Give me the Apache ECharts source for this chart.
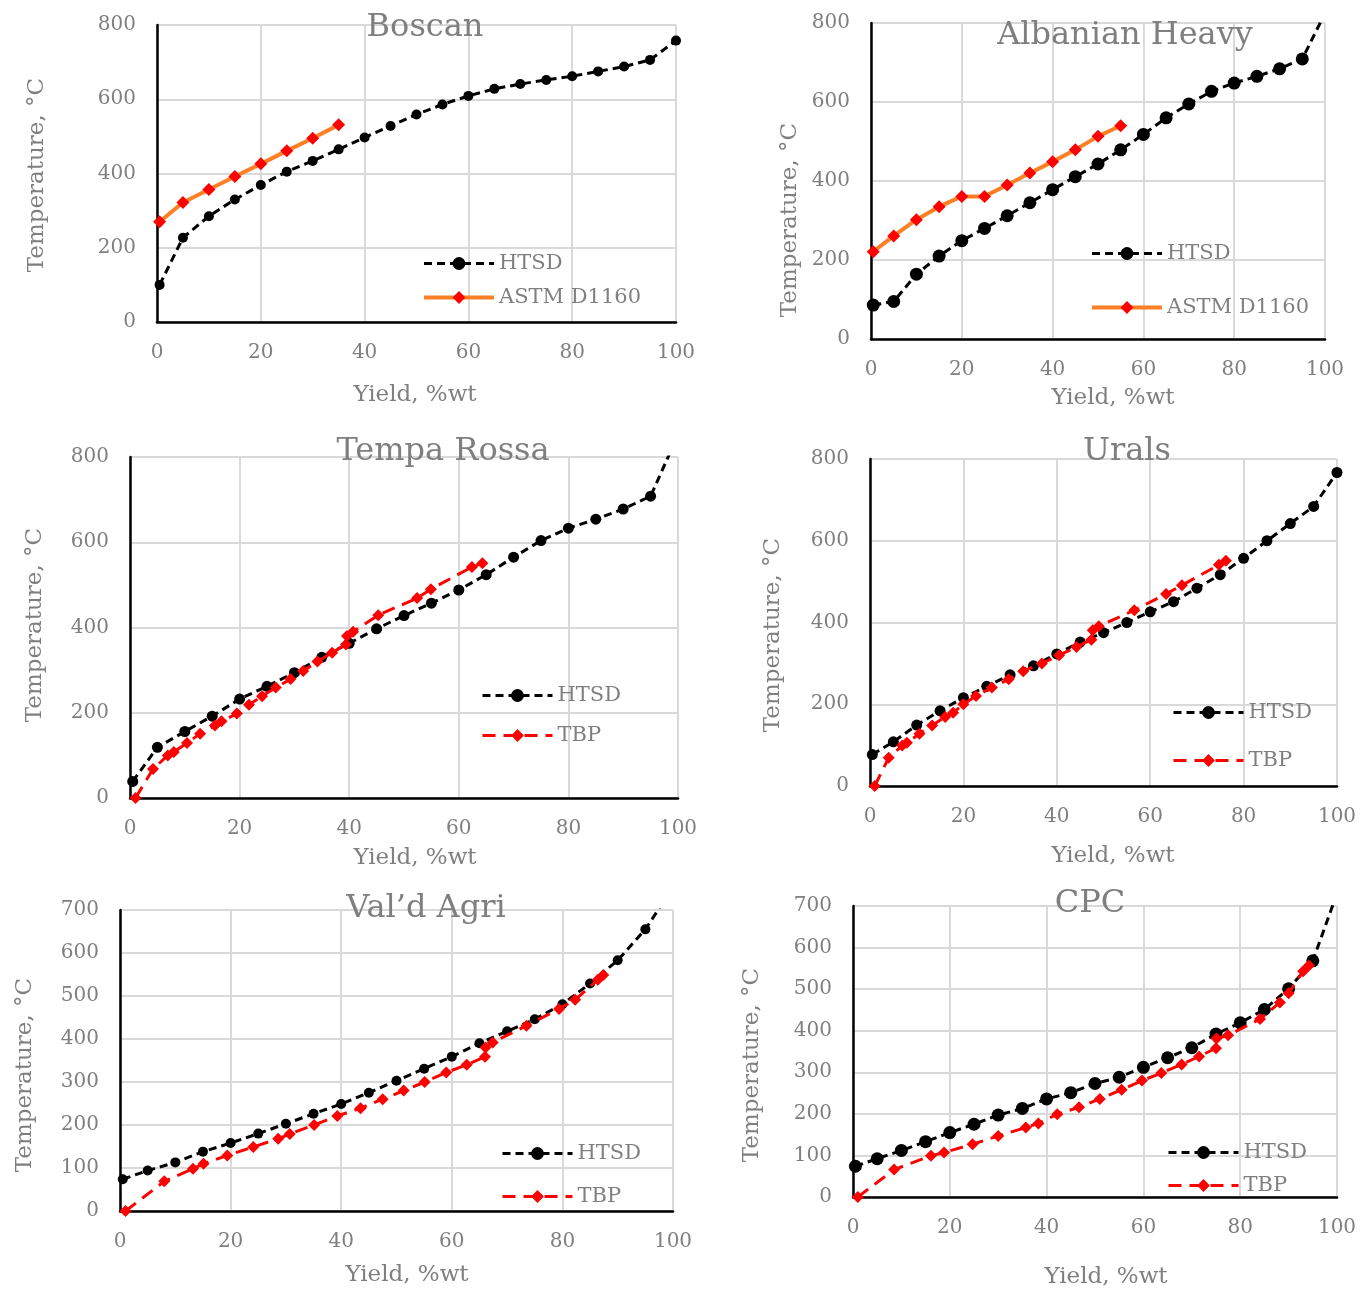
<!DOCTYPE html>
<html>
<head>
<meta charset="utf-8">
<script src="https://cdn.jsdelivr.net/npm/echarts@6/dist/echarts.min.js"></script>
<style>
html, body { margin: 0; padding: 0; background: #fff; }
#chart { width: 1370px; height: 1291px; }
</style>
</head>
<body>
<div id="chart"></div>
<script>
// yield points (%wt) of the HTSD curves, same for all six crudes
const htsdYield = [0.5, 5, 10, 15, 20, 25, 30, 35, 40, 45, 50, 55, 60, 65, 70, 75, 80, 85, 90, 95, 100];

// HTSD temperatures, °C
const boscanHtsd = [100, 227, 285, 330, 369, 405, 434, 465, 497, 528, 559, 586, 609, 628, 641, 652, 662, 675, 688, 706, 758];
const albanianHtsd = [86, 95, 164, 210, 249, 280, 312, 345, 378, 411, 443, 479, 518, 560, 595, 627, 648, 665, 684, 709, 825];
const tempaHtsd = [39, 119, 156, 192, 232, 262, 294, 330, 363, 397, 428, 457, 488, 524, 565, 604, 633, 654, 678, 708, 852];
const uralsHtsd = [77, 108, 149, 184, 216, 244, 272, 294, 323, 352, 375, 400, 426, 451, 484, 517, 557, 600, 642, 684, 767];
const valdHtsd = [74, 94, 113, 138, 158, 180, 203, 226, 249, 275, 303, 331, 359, 390, 418, 446, 481, 529, 583, 655, 753];
const cpcHtsd = [74, 92, 112, 133, 155, 175, 197, 213, 236, 251, 273, 288, 312, 335, 359, 392, 419, 451, 501, 568, 730];

// ASTM D1160 distillations
const boscanAstmYield = [0.5, 5, 10, 15, 20, 25, 30, 35];
const boscanAstm = [270, 322, 357, 392, 426, 461, 495, 531];
const albanianAstmYield = [0.5, 5, 10, 15, 20, 25, 30, 35, 40, 45, 50, 55];
const albanianAstm = [221, 261, 302, 335, 361, 361, 390, 420, 449, 479, 513, 540];

// TBP distillations
const tempaTbpYield = [1, 4.2, 6.9, 8, 10.4, 12.8, 15.5, 16.7, 19.5, 21.7, 24.1, 26.6, 29.3, 31.6, 34.2, 36.9, 39.4, 39.6, 40.7, 45.3, 52.4, 54.9, 62.4, 64.3];
const tempaTbp = [0, 68, 100, 108, 129, 151, 170, 180, 198, 219, 239, 259, 279, 298, 320, 341, 360, 380, 390, 429, 469, 490, 542, 551];
const uralsTbpYield = [1, 4, 6.9, 7.9, 10.6, 13.3, 16.1, 17.8, 20, 22.7, 26.1, 29.7, 32.8, 36.8, 40.5, 44.2, 47.4, 47.7, 49, 56.6, 63.4, 66.8, 74.7, 76.2];
const uralsTbp = [0, 69, 99, 106, 128, 148, 169, 179, 200, 220, 241, 261, 281, 300, 320, 340, 358, 381, 391, 430, 470, 491, 541, 551];
const valdTbpYield = [1, 8, 13.2, 15.1, 19.4, 24.1, 28.6, 30.7, 35.1, 39.3, 43.5, 47.5, 51.3, 55.1, 59, 62.7, 66, 66.1, 67.4, 73.5, 79.4, 82.3, 86.4, 87.4];
const valdTbp = [0, 69, 98, 110, 129, 149, 168, 179, 200, 221, 239, 260, 280, 300, 322, 340, 359, 380, 392, 431, 470, 491, 538, 549];
const cpcTbpYield = [1, 8.5, 16.1, 18.8, 24.7, 30, 35.7, 38.3, 42.2, 46.7, 51, 55.5, 59.7, 63.7, 67.9, 71.5, 75, 75.1, 77.5, 84.1, 88.2, 90, 93, 94.2];
const cpcTbp = [0, 66, 99, 107, 127, 147, 167, 177, 199, 216, 236, 258, 280, 298, 319, 338, 358, 381, 389, 428, 468, 490, 543, 557];

const crudeNames = ['Boscan', 'Albanian Heavy', 'Tempa Rossa', 'Urals', 'Val\u2019d Agri', 'CPC'];
const xTicks = [0, 20, 40, 60, 80, 100];
const yMaxes = [800, 800, 800, 800, 700, 700];
const yIntervals = [200, 200, 200, 200, 100, 100];

const FONT = '"DejaVu Serif", serif';
const GREY = '#7f7f7f';

const htsdLine = {color: '#000', width: 3, type: [8, 5]};
const astmLine = {color: '#ff7f27', width: 4, type: 'solid'};
const tbpLine = {color: '#ff0000', width: 3, type: [13, 8]};

function pairs(xs, ys) {
    return xs.map((x, i) => [x, ys[i]]);
}

// panel layout: grid box, title / axis name centres, legend spot
const panels = [
    {grid: [157, 25, 519, 297], title: [425, 28], xName: [415, 395], yName: [37, 175], legend: [422, 253, 13], dot: 10,
     htsd: boscanHtsd, refName: 'ASTM D1160', refX: boscanAstmYield, refY: boscanAstm},
    {grid: [871, 23, 454, 316], title: [1125, 36], xName: [1113, 398], yName: [790, 220], legend: [1090, 243, 33], dot: 13,
     htsd: albanianHtsd, refName: 'ASTM D1160', refX: albanianAstmYield, refY: albanianAstm},
    {grid: [130, 457, 548, 341], title: [443, 452], xName: [415, 858], yName: [35, 625], legend: [481, 685, 19], dot: 11,
     htsd: tempaHtsd, refName: 'TBP', refX: tempaTbpYield, refY: tempaTbp},
    {grid: [870, 459, 467, 327], title: [1127, 452], xName: [1113, 856], yName: [773, 635], legend: [1172, 702, 27], dot: 11,
     htsd: uralsHtsd, refName: 'TBP', refX: uralsTbpYield, refY: uralsTbp},
    {grid: [120, 910, 553, 301], title: [426, 909], xName: [407, 1275], yName: [25, 1075], legend: [501, 1143, 22], dot: 10,
     htsd: valdHtsd, refName: 'TBP', refX: valdTbpYield, refY: valdTbp},
    {grid: [853, 906, 484, 291], title: [1090, 904], xName: [1106, 1277], yName: [752, 1065], legend: [1167, 1142, 12], dot: 13,
     htsd: cpcHtsd, refName: 'TBP', refX: cpcTbpYield, refY: cpcTbp}
];

const grids = [], xAxes = [], yAxes = [], series = [], legends = [], texts = [];

panels.forEach(function (p, i) {
    grids.push({left: p.grid[0], top: p.grid[1], width: p.grid[2], height: p.grid[3], containLabel: false});

    const axisCommon = {
        gridIndex: i,
        axisTick: {show: false},
        axisLine: {show: true, onZero: false, lineStyle: {color: '#000', width: 2.5}},
        splitLine: {show: true, lineStyle: {color: '#d9d9d9', width: 2}},
        axisLabel: {color: GREY, fontSize: 20, fontFamily: FONT, margin: 21}
    };
    xAxes.push(Object.assign({}, axisCommon, {
        type: 'value', min: xTicks[0], max: xTicks[xTicks.length - 1], interval: 20
    }));
    yAxes.push(Object.assign({}, axisCommon, {
        type: 'value', min: 0, max: yMaxes[i], interval: yIntervals[i]
    }));

    series.push({
        name: 'HTSD',
        type: 'line',
        xAxisIndex: i, yAxisIndex: i,
        data: pairs(htsdYield, p.htsd),
        symbol: 'circle',
        symbolSize: p.dot,
        itemStyle: {color: '#000'},
        lineStyle: htsdLine,
        clip: true,
        z: 3
    });

    const astm = p.refName === 'ASTM D1160';
    series.push({
        name: p.refName,
        type: 'line',
        xAxisIndex: i, yAxisIndex: i,
        data: pairs(p.refX, p.refY),
        symbol: 'diamond',
        symbolSize: astm ? 13 : 12,
        itemStyle: {color: '#ff0000'},
        lineStyle: astm ? astmLine : tbpLine,
        clip: true,
        z: 4
    });

    legends.push({
        orient: 'vertical',
        left: p.legend[0],
        top: p.legend[1],
        padding: 0,
        itemGap: p.legend[2],
        itemWidth: 70,
        itemHeight: 16,
        selectedMode: false,
        data: [
            {name: 'HTSD', lineStyle: htsdLine},
            {name: p.refName, lineStyle: astm ? astmLine : tbpLine}
        ],
        textStyle: {color: GREY, fontSize: 21, fontFamily: FONT}
    });

    texts.push({
        type: 'text', x: p.title[0], y: p.title[1], z: 10,
        style: {text: crudeNames[i], fill: GREY, fontSize: 32, fontFamily: FONT, align: 'center', verticalAlign: 'middle'}
    });
    texts.push({
        type: 'text', x: p.xName[0], y: p.xName[1],
        style: {text: 'Yield, %wt', fill: GREY, fontSize: 23, fontFamily: FONT, align: 'center', verticalAlign: 'middle'}
    });
    texts.push({
        type: 'text', x: p.yName[0], y: p.yName[1], rotation: Math.PI / 2,
        style: {text: 'Temperature, \u00B0C', fill: GREY, fontSize: 23, fontFamily: FONT, align: 'center', verticalAlign: 'middle'}
    });
});

const chart = echarts.init(document.getElementById('chart'));
chart.setOption({
    animation: false,
    backgroundColor: '#fff',
    grid: grids,
    xAxis: xAxes,
    yAxis: yAxes,
    legend: legends,
    series: series,
    graphic: texts
});
</script>
</body>
</html>
